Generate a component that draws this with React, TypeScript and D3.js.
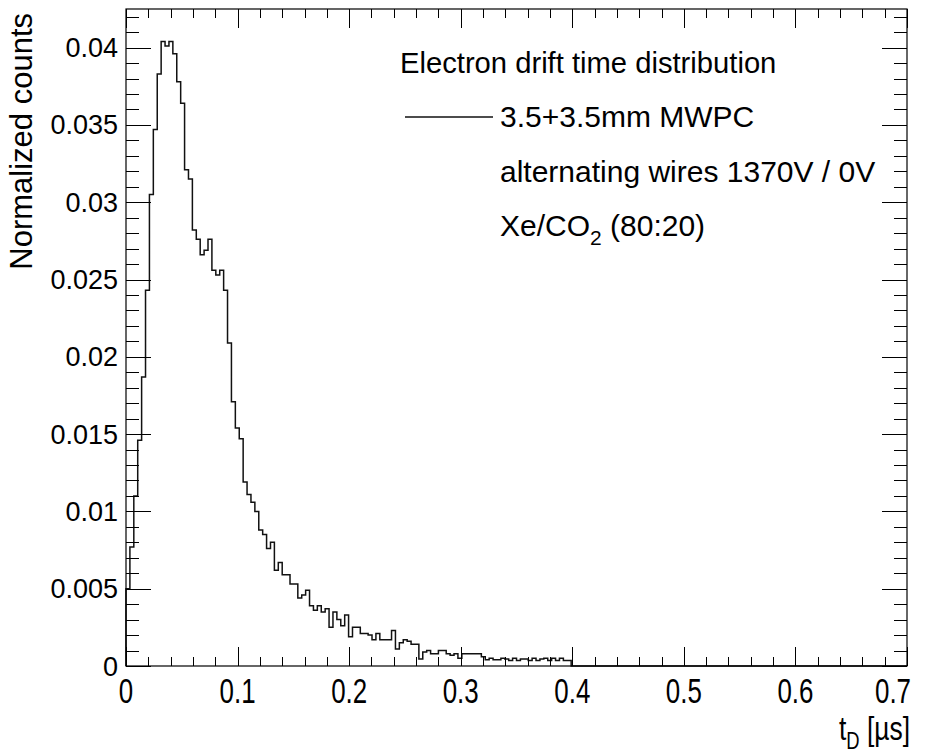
import React from "react";
import * as d3 from "d3";

// Histogram: 0.0035 µs bins starting at 0
const binStart = 0;
const binWidth = 0.0035;
const counts = [
  0.0050, 0.0077, 0.0110, 0.0146, 0.0187, 0.0243, 0.0305, 0.0347, 0.0383, 0.0404,
  0.0401, 0.0404, 0.0396, 0.0378, 0.0364, 0.0321, 0.0315, 0.0282, 0.0276, 0.0266,
  0.0269, 0.0276, 0.0256, 0.0253, 0.0256, 0.0243, 0.0209, 0.0171, 0.0154, 0.0147,
  0.0119, 0.0111, 0.0106, 0.0100, 0.0088, 0.0085, 0.0076, 0.0080, 0.0062, 0.0067,
  0.0059, 0.0059, 0.0053, 0.0053, 0.0044, 0.0046, 0.0049, 0.0039, 0.0036, 0.0039,
  0.0035, 0.0037, 0.0025, 0.0035, 0.0030, 0.0026, 0.0033, 0.0019, 0.0025, 0.0025,
  0.0021, 0.0021, 0.0020, 0.0017, 0.0021, 0.0017, 0.0017, 0.0017, 0.0023, 0.0011,
  0.0015, 0.0017, 0.0016, 0.0014, 0.0014, 0.00045, 0.0009, 0.0010, 0.0008, 0.0008,
  0.0010, 0.0010, 0.0008, 0.0007, 0.0008, 0.0005, 0.0008, 0.0008, 0.0008, 0.0008,
  0.0008, 0.0006, 0.0004, 0.0005, 0.0004, 0.0004, 0.0005, 0.00045, 0.00035, 0.0005,
  0.00035, 0.00045, 0.00045, 0.00035, 0.0005, 0.00035, 0.00045, 0.0005, 0.00035, 0.0005,
  0.00035, 0.0005, 0.00035, 0.00035,
];

const xDomain = [0, 0.7];
const yDomain = [0, 0.0425];
const xMajorTicks = [0, 0.1, 0.2, 0.3, 0.4, 0.5, 0.6, 0.7];
const xTickLabels = ["0", "0.1", "0.2", "0.3", "0.4", "0.5", "0.6", "0.7"];
const yMajorTicks = [0, 0.005, 0.01, 0.015, 0.02, 0.025, 0.03, 0.035, 0.04];
const yTickLabels = ["0", "0.005", "0.01", "0.015", "0.02", "0.025", "0.03", "0.035", "0.04"];
const xMinorStep = 0.02;
const yMinorStep = 0.001;

const legendTitle = "Electron drift time distribution";
const legendEntry = "3.5+3.5mm MWPC";
const legendLine2 = "alternating wires 1370V / 0V";
const yTitle = "Normalized counts";

const FONT = "'Liberation Sans', Arial, Helvetica, sans-serif";

export default function App() {
  const W = 928, H = 754;
  const L = 126, R = 907, T = 9, B = 666;
  const x = d3.scaleLinear().domain(xDomain).range([L, R]);
  const y = d3.scaleLinear().domain(yDomain).range([B, T]);

  const pts: [number, number][] = [[binStart, 0]];
  counts.forEach((v, i) => pts.push([binStart + i * binWidth, v]));
  pts.push([binStart + counts.length * binWidth, 0]);
  pts.push([xDomain[1], 0]);
  const line = d3
    .line<[number, number]>()
    .x((d) => x(d[0]))
    .y((d) => y(d[1]))
    .curve(d3.curveStepAfter);
  const path = line(pts) || "";

  const xMinor = d3.range(0, xDomain[1] + 1e-9, xMinorStep);
  const yMinor = d3.range(0, yDomain[1], yMinorStep);
  const isMajor = (v: number, step: number) => Math.abs(v / step - Math.round(v / step)) < 1e-6;

  const xMajLen = 19, xMinLen = 9;
  const yMajLen = 25, yMinLen = 13;
  const tickColor = "#000";

  return (
    <svg width={W} height={H} style={{ position: "absolute", left: 0, top: 0, background: "#fff" }} fontFamily={FONT}>
      <rect x={0} y={0} width={W} height={H} fill="#fff" />
      {/* histogram */}
      <path d={path} fill="none" stroke="#111" strokeWidth={1.5} />
      {/* frame */}
      <rect x={L} y={T} width={R - L} height={B - T} fill="none" stroke="#000" strokeWidth={1.2} />
      {/* x ticks bottom & top */}
      {xMinor.map((v, i) => {
        const maj = isMajor(v, 0.1);
        const len = maj ? xMajLen : xMinLen;
        const xx = Math.round(x(v)) + 0.5;
        return (
          <g key={"xt" + i}>
            <line x1={xx} x2={xx} y1={B} y2={B - len} stroke={tickColor} strokeWidth={1} />
            <line x1={xx} x2={xx} y1={T} y2={T + len} stroke={tickColor} strokeWidth={1} />
          </g>
        );
      })}
      {/* y ticks left & right */}
      {yMinor.map((v, i) => {
        const maj = isMajor(v, 0.005);
        const len = maj ? yMajLen : yMinLen;
        const yy = Math.round(y(v)) + 0.5;
        return (
          <g key={"yt" + i}>
            <line x1={L} x2={L + len} y1={yy} y2={yy} stroke={tickColor} strokeWidth={1} />
            <line x1={R} x2={R - len} y1={yy} y2={yy} stroke={tickColor} strokeWidth={1} />
          </g>
        );
      })}
      {/* x tick labels */}
      {xMajorTicks.map((v, i) => {
        const last = i === xMajorTicks.length - 1;
        const cx = last ? x(v) - 14 : x(v);
        return (
          <text
            key={"xl" + i}
            x={0}
            y={0}
            transform={`translate(${cx},${703}) scale(0.72,1)`}
            textAnchor="middle"
            fontSize={36}
            fill="#000"
          >
            {xTickLabels[i]}
          </text>
        );
      })}
      {/* y tick labels */}
      {yMajorTicks.map((v, i) => (
        <text key={"yl" + i} x={L - 8} y={y(v) + 9.5} textAnchor="end" fontSize={27} fill="#000">
          {yTickLabels[i]}
        </text>
      ))}
      {/* axis titles */}
      <text transform={`translate(32,${T + 4}) rotate(-90)`} textAnchor="end" fontSize={31} fill="#000">
        {yTitle}
      </text>
      <text transform={`translate(910,740) scale(0.8,1)`} textAnchor="end" fontSize={33} fill="#000">
        t<tspan dy={9} fontSize={23}>D</tspan>
        <tspan dy={-9}> [µs]</tspan>
      </text>
      {/* legend */}
      <text x={400} y={73} fontSize={29.2} fill="#000">{legendTitle}</text>
      <line x1={405} x2={493} y1={117} y2={117} stroke="#111" strokeWidth={1.5} />
      <text x={500} y={127} fontSize={30} fill="#000">{legendEntry}</text>
      <text x={500} y={182} fontSize={30} fill="#000">{legendLine2}</text>
      <text x={500} y={236} fontSize={30} fill="#000">
        Xe/CO<tspan dy={9} fontSize={21}>2</tspan>
        <tspan dy={-9}> (80:20)</tspan>
      </text>
    </svg>
  );
}
